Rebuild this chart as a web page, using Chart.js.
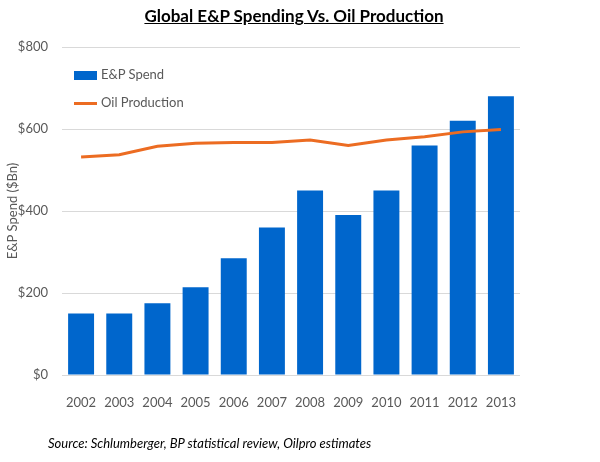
<!DOCTYPE html>
<html>
<head>
<meta charset="utf-8">
<script src="https://cdn.jsdelivr.net/npm/chart.js@4/dist/chart.umd.min.js"></script>
<style>
  body { margin: 0; background: #fff; font-family: Lato, "Open Sans", sans-serif; }
  #wrap { position: relative; width: 600px; height: 462px; overflow: hidden; }
  #chart { position: absolute; left: 0; top: 0; }
  .title { position: absolute; top: 5px; left: 0; width: 588px; text-align: center;
           font-size: 17px; font-weight: bold; text-decoration: underline; color: #000; }
  .legend { position: absolute; left: 74px; font-size: 13px; color: #595959; }
  .legend span { display: inline-block; vertical-align: middle; margin-right: 4px; }
  .source { position: absolute; left: 48px; top: 435px; font-size: 13px; font-style: italic; color: #000; }
</style>
</head>
<body>
<div id="wrap">
  <canvas id="chart" width="600" height="462"></canvas>
  <div class="title">Global E&amp;P Spending Vs. Oil Production</div>
  <div class="legend" style="top:66px"><span style="width:23px;height:9px;background:#0066cc"></span>E&amp;P Spend</div>
  <div class="legend" style="top:94px"><span style="width:23px;height:3px;background:#ec6c22"></span>Oil Production</div>
  <div class="source">Source: Schlumberger, BP statistical review, Oilpro estimates</div>
</div>
<script>
// 数据
const years = ['2002', '2003', '2004', '2005', '2006', '2007', '2008', '2009', '2010', '2011', '2012', '2013'];
const epSpend = [150, 150, 175, 214, 285, 360, 450, 390, 450, 560, 620, 680];
const oilProduction = [532, 537, 558, 565, 567, 567, 573, 560, 573, 581, 593, 599];
const yTicks = [0, 200, 400, 600, 800];

const ctx = document.getElementById('chart').getContext('2d');
new Chart(ctx, {
    data: {
        labels: years,
        datasets: [{
            type: 'line',
            label: 'Oil Production',
            data: oilProduction,
            borderColor: '#ec6c22',
            borderWidth: 3,
            pointRadius: 0,
            tension: 0,
            order: 0
        }, {
            type: 'bar',
            label: 'E&P Spend',
            data: epSpend,
            backgroundColor: '#0066cc',
            categoryPercentage: 1,
            barPercentage: 0.68,
            order: 1
        }]
    },
    options: {
        responsive: false,
        animation: false,
        layout: { padding: { top: 47, right: 80, bottom: 47, left: 5 } },
        plugins: { legend: { display: false }, tooltip: { enabled: false } },
        scales: {
            x: {
                grid: { display: false },
                border: { display: false },
                ticks: { color: '#595959', font: { family: 'Lato', size: 13 }, padding: 12 },
                afterFit: s => { s.height = 40; }
            },
            y: {
                min: 0,
                max: 800,
                afterBuildTicks: s => { s.ticks = yTicks.map(v => ({ value: v })); },
                grid: { color: '#d9d9d9', drawTicks: false },
                border: { display: false },
                ticks: {
                    color: '#595959',
                    font: { family: 'Lato', size: 13 },
                    padding: 14,
                    callback: v => '$' + v
                },
                title: {
                    display: true,
                    text: 'E&P Spend ($Bn)',
                    color: '#595959',
                    font: { family: 'Lato', size: 13 },
                    padding: 0
                },
                afterFit: s => { s.width = 57; }
            }
        }
    }
});
</script>
</body>
</html>
